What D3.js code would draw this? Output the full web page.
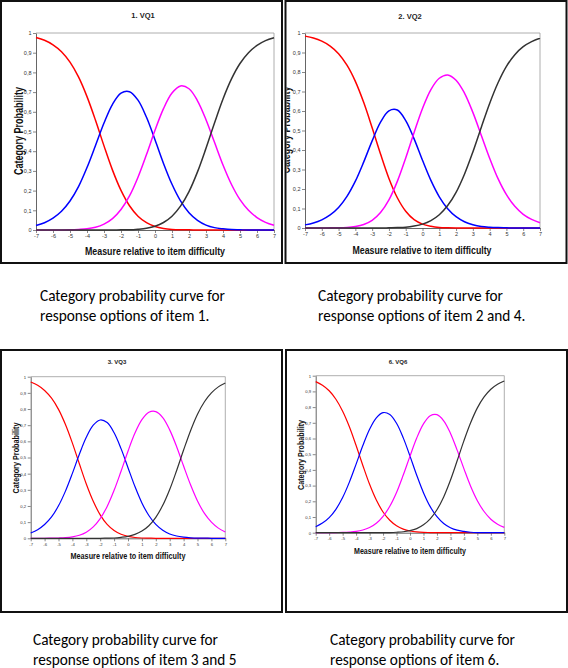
<!DOCTYPE html>
<html>
<head>
<meta charset="utf-8">
<script src="https://cdn.jsdelivr.net/npm/d3@7"></script>
<style>
html,body{margin:0;padding:0;background:#fff;}
svg{display:block;}
</style>
</head>
<body>
<svg id="chart" width="568" height="668"></svg>
<script>
// ---------- DATA ----------
const measure = [-7,-6.5,-6,-5.5,-5,-4.5,-4,-3.5,-3,-2.5,-2,-1.5,-1,-0.5,0,0.5,1,1.5,2,2.5,3,3.5,4,4.5,5,5.5,6,6.5,7];

const titles = ["1. VQ1","2. VQ2","3. VQ3","6. VQ6"];

const vq1Cat1 = [0.977,0.963,0.940,0.905,0.852,0.777,0.677,0.557,0.427,0.304,0.201,0.123,0.070,0.037,0.018,0.008,0.003,0.001,0.001,0,0,0,0,0,0,0,0,0,0];
const vq1Cat2 = [0.023,0.037,0.060,0.095,0.147,0.220,0.317,0.429,0.543,0.638,0.695,0.702,0.659,0.572,0.458,0.338,0.232,0.148,0.088,0.049,0.025,0.012,0.006,0.002,0.001,0,0,0,0];
const vq1Cat3 = [0,0,0,0,0.001,0.003,0.006,0.014,0.030,0.058,0.104,0.173,0.268,0.383,0.506,0.616,0.695,0.731,0.717,0.656,0.560,0.445,0.330,0.231,0.154,0.100,0.063,0.039,0.024];
const vq1Cat4 = [0,0,0,0,0,0,0,0,0,0,0.001,0.001,0.004,0.009,0.019,0.038,0.070,0.121,0.195,0.295,0.415,0.543,0.665,0.767,0.845,0.900,0.937,0.961,0.976];

const vq2Cat1 = [0.984,0.974,0.958,0.933,0.894,0.835,0.752,0.643,0.514,0.379,0.254,0.155,0.086,0.043,0.020,0.009,0.003,0.001,0,0,0,0,0,0,0,0,0,0,0];
const vq2Cat2 = [0.016,0.026,0.042,0.067,0.105,0.162,0.240,0.339,0.447,0.543,0.601,0.605,0.551,0.457,0.347,0.244,0.160,0.099,0.058,0.032,0.017,0.008,0.004,0.002,0.001,0,0,0,0];
const vq2Cat3 = [0,0,0,0.001,0.001,0.003,0.008,0.018,0.039,0.079,0.144,0.239,0.359,0.490,0.613,0.710,0.768,0.785,0.758,0.692,0.593,0.476,0.358,0.253,0.171,0.111,0.070,0.044,0.027];
const vq2Cat4 = [0,0,0,0,0,0,0,0,0,0,0.001,0.002,0.004,0.010,0.020,0.038,0.068,0.115,0.183,0.276,0.390,0.516,0.639,0.745,0.829,0.889,0.930,0.956,0.973];

const vq3Cat1 = [0.967,0.947,0.915,0.867,0.798,0.704,0.589,0.461,0.336,0.229,0.145,0.086,0.048,0.025,0.012,0.005,0.002,0.001,0,0,0,0,0,0,0,0,0,0,0];
const vq3Cat2 = [0.033,0.053,0.085,0.132,0.201,0.292,0.402,0.520,0.625,0.700,0.732,0.716,0.653,0.555,0.437,0.320,0.219,0.141,0.086,0.050,0.027,0.014,0.007,0.003,0.001,0.001,0,0,0];
const vq3Cat3 = [0,0,0,0.001,0.002,0.004,0.009,0.019,0.038,0.071,0.122,0.197,0.297,0.415,0.539,0.651,0.734,0.780,0.784,0.747,0.671,0.567,0.447,0.331,0.231,0.154,0.100,0.063,0.039];
const vq3Cat4 = [0,0,0,0,0,0,0,0,0,0,0,0.001,0.002,0.006,0.012,0.024,0.045,0.078,0.130,0.204,0.302,0.420,0.546,0.666,0.768,0.845,0.900,0.937,0.961];

const vq6Cat1 = [0.962,0.939,0.904,0.850,0.774,0.675,0.555,0.428,0.308,0.208,0.132,0.079,0.044,0.023,0.011,0.005,0.002,0.001,0,0,0,0,0,0,0,0,0,0,0];
const vq6Cat2 = [0.038,0.061,0.096,0.149,0.224,0.322,0.437,0.555,0.659,0.732,0.765,0.753,0.697,0.604,0.488,0.366,0.255,0.166,0.102,0.059,0.032,0.016,0.008,0.003,0.001,0.001,0,0,0];
const vq6Cat3 = [0,0,0,0.001,0.002,0.004,0.008,0.017,0.033,0.060,0.104,0.168,0.256,0.367,0.488,0.603,0.693,0.745,0.752,0.713,0.634,0.526,0.408,0.296,0.204,0.135,0.086,0.054,0.034];
const vq6Cat4 = [0,0,0,0,0,0,0,0,0,0,0,0.001,0.003,0.006,0.013,0.026,0.050,0.088,0.146,0.228,0.334,0.458,0.585,0.700,0.795,0.865,0.914,0.946,0.966];

const xTicks = [-7,-6,-5,-4,-3,-2,-1,0,1,2,3,4,5,6,7];
const yTicks = [0,0.1,0.2,0.3,0.4,0.5,0.6,0.7,0.8,0.9,1];
const yTickLabels = ["0","0,1","0,2","0,3","0,4","0,5","0,6","0,7","0,8","0,9","1"];

const yAxisTitle = "Category  Probability";
const xAxisTitle = "Measure relative to item difficulty";

const captionLine1 = ["Category probability curve for","Category probability curve for","Category probability curve for","Category probability curve for"];
const captionLine2 = ["response options of item 1.","response options of item 2 and 4.","response options of item 3 and 5","response options of item 6."];

const seriesColors = ["#ff0000","#0000ff","#ff00ff","#333333"];

// ---------- LAYOUT ----------
const panels = [
  {series:[vq1Cat1,vq1Cat2,vq1Cat3,vq1Cat4], box:[1,1,281,262], plot:{l:36,r:274,t:33,b:230},
   title:[143,17.5,7.5], ytitle:[18.5,131,12.5,88], xtitle:[155,251,10,140], tick:5.5, lw:1.5, cap:[40,301,321]},
  {series:[vq2Cat1,vq2Cat2,vq2Cat3,vq2Cat4], box:[285.5,1,281,262], plot:{l:305,r:540,t:33,b:228},
   title:[410,19,7.5], ytitle:[286,130,12.5,87], xtitle:[422,250,10,139], tick:5.5, lw:1.5, cap:[318,301,321]},
  {series:[vq3Cat1,vq3Cat2,vq3Cat3,vq3Cat4], box:[1,350,281,262], plot:{l:30.7,r:225.3,t:376.7,b:538.3},
   title:[117,364,6], ytitle:[15.5,458,9.5,71], xtitle:[128,556,8.5,115], tick:4.2, lw:1.2, cap:[33,645,665]},
  {series:[vq6Cat1,vq6Cat2,vq6Cat3,vq6Cat4], box:[286,350,281,262], plot:{l:315.7,r:504.3,t:375.7,b:532.7},
   title:[398,364,6], ytitle:[301,455,9.5,70], xtitle:[410,551,8.5,112], tick:4.2, lw:1.2, cap:[330,645,665]}
];

const svg = d3.select("#chart");
svg.append("rect").attr("width",568).attr("height",668).attr("fill","#fff");

panels.forEach((p,i)=>{
  const g = svg.append("g");
  const clipId = "clip"+i;
  svg.append("defs").append("clipPath").attr("id",clipId)
    .append("rect").attr("x",p.box[0]+1).attr("y",p.box[1]+1).attr("width",p.box[2]-2).attr("height",p.box[3]-2);
  const inner = g.append("g").attr("clip-path",`url(#${clipId})`);

  const x = d3.scaleLinear().domain([-7,7]).range([p.plot.l,p.plot.r]);
  const y = d3.scaleLinear().domain([0,1]).range([p.plot.b,p.plot.t]);

  // frame top/right
  inner.append("path")
    .attr("d",`M${p.plot.l},${p.plot.t}H${p.plot.r}V${p.plot.b}`)
    .attr("fill","none").attr("stroke","#9a9a9a").attr("stroke-width",0.8);

  // axes
  const yAx = d3.axisLeft(y).tickValues(yTicks).tickSize(3).tickSizeOuter(0)
    .tickFormat((d,k)=>yTickLabels[k]);
  const xAx = d3.axisBottom(x).tickValues(xTicks).tickSize(3).tickSizeOuter(0)
    .tickFormat(d=>String(d));
  const ya = inner.append("g").attr("transform",`translate(${p.plot.l},0)`).call(yAx);
  const xa = inner.append("g").attr("transform",`translate(0,${p.plot.b})`).call(xAx);
  [ya,xa].forEach(a=>{
    a.select(".domain").attr("stroke","#555").attr("stroke-width",0.9);
    a.selectAll(".tick line").attr("stroke","#555").attr("stroke-width",0.7);
    a.selectAll(".tick text").attr("font-family","Arial, 'Liberation Sans', sans-serif")
      .attr("font-size",p.tick).attr("fill","#333");
  });
  ya.selectAll(".tick text").attr("x",-4.5);
  xa.selectAll(".tick text").attr("y",4.5);

  // curves
  const line = d3.line().x((d,k)=>x(measure[k])).y(d=>y(d)).curve(d3.curveCatmullRom.alpha(0.5));
  p.series.forEach((s,k)=>{
    inner.append("path").datum(s).attr("d",line)
      .attr("fill","none").attr("stroke",seriesColors[k]).attr("stroke-width",p.lw);
  });

  // titles
  inner.append("text").attr("x",p.title[0]).attr("y",p.title[1]).attr("text-anchor","middle")
    .attr("font-family","Arial, 'Liberation Sans', sans-serif").attr("font-weight","bold")
    .attr("font-size",p.title[2]).attr("fill","#222").text(titles[i]);
  inner.append("text")
    .attr("transform",`translate(${p.ytitle[0]},${p.ytitle[1]}) rotate(-90)`)
    .attr("text-anchor","middle").attr("dy","0.35em")
    .attr("font-family","Arial, 'Liberation Sans', sans-serif").attr("font-weight","bold")
    .attr("font-size",p.ytitle[2]).attr("fill","#111")
    .attr("textLength",p.ytitle[3]).attr("lengthAdjust","spacingAndGlyphs")
    .text(yAxisTitle);
  inner.append("text").attr("x",p.xtitle[0]).attr("y",p.xtitle[1]).attr("text-anchor","middle")
    .attr("dy","0.35em")
    .attr("font-family","Arial, 'Liberation Sans', sans-serif").attr("font-weight","bold")
    .attr("font-size",p.xtitle[2]).attr("fill","#111")
    .attr("textLength",p.xtitle[3]).attr("lengthAdjust","spacingAndGlyphs")
    .text(xAxisTitle);

  // border
  g.append("rect").attr("x",p.box[0]).attr("y",p.box[1]).attr("width",p.box[2]).attr("height",p.box[3])
    .attr("fill","none").attr("stroke","#111").attr("stroke-width",2);

  // captions
  const cap = svg.append("g").attr("font-family","Carlito, Lato, 'Open Sans', sans-serif").attr("fill","#000");
  const t1 = cap.append("text").attr("x",p.cap[0]).attr("y",p.cap[1]).attr("font-size",14).text(captionLine1[i]);
  const t2 = cap.append("text").attr("x",p.cap[0]).attr("y",p.cap[2]).attr("font-size",14).text(captionLine2[i]);
  const w = t1.node().getComputedTextLength();
  const fs = 14*185/w;
  t1.attr("font-size",fs); t2.attr("font-size",fs);
});
</script>
</body>
</html>
